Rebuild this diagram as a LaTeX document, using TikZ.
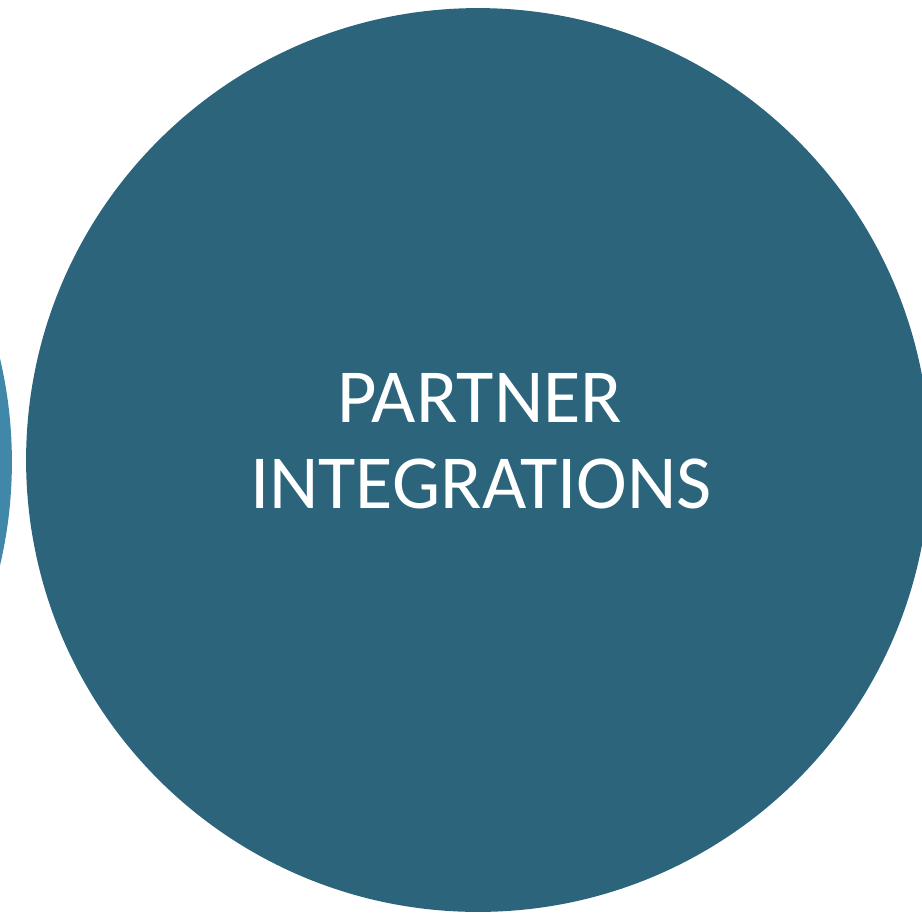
\documentclass[tikz,border=0pt]{standalone}
\usepackage{fontspec}
\setmainfont{Carlito}
\usetikzlibrary{positioning}
\definecolor{partnerblue}{RGB}{44,100,124}
\definecolor{sideblue}{RGB}{64,135,170}
\tikzset{
    bigcircle/.style = {circle, inner sep=0pt, minimum size=18.08cm, fill=partnerblue},
    sidecircle/.style = {circle, inner sep=0pt, minimum size=18.08cm, fill=sideblue},
    title/.style = {text=white, inner sep=0pt, anchor=base, font=\fontsize{43.5}{52}\selectfont},
}

\begin{document}
\begin{tikzpicture}[x=0.02cm, y=-0.02cm]
    \clip (0,0) rectangle (922,914);
    \fill [white] (0,0) rectangle (922,914);
    \node [sidecircle] (side) at (-440,462) {};
    \node [bigcircle] (partner) at (478,460) {};
    \node [title] (line1) at (480,422) {PARTNER};
    \node [title] (line2) at (481,508) {INTEGRATIONS};
\end{tikzpicture}
\end{document}
